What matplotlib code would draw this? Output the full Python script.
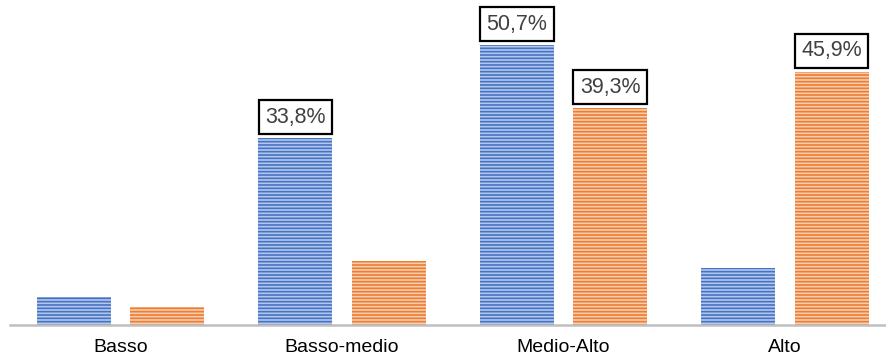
import matplotlib.pyplot as plt
import numpy as np

plt.rcParams['font.family'] = ['Liberation Sans', 'DejaVu Sans']
plt.rcParams['hatch.linewidth'] = 1.2

# 数据
categorie = ['Basso', 'Basso-medio', 'Medio-Alto', 'Alto']
serie_blu = [5.1, 33.8, 50.7, 10.3]
serie_arancio = [3.2, 11.6, 39.3, 45.9]
# 只标注部分柱子
etichetta_blu = [False, True, True, False]
etichetta_arancio = [False, False, True, True]

fig = plt.figure(figsize=(8.86, 3.57), dpi=100)
ax = fig.add_axes([9.75 / 886, 32 / 357, 1.0, 325 / 357])

x = np.arange(len(categorie))
w = 0.334
off = 0.21

b1 = ax.bar(x - off, serie_blu, w, facecolor='#b4c7ea', edgecolor='#4472c4',
            linewidth=0, hatch='-----')
b2 = ax.bar(x + off, serie_arancio, w, facecolor='#f8cdb0', edgecolor='#ed7d31',
            linewidth=0, hatch='-----')


def etichette(barre, valori, flag):
    for rect, v, f in zip(barre, valori, flag):
        if not f:
            continue
        ax.annotate(f'{v:.1f}%'.replace('.', ','),
                    (rect.get_x() + rect.get_width() / 2, rect.get_height()),
                    xytext=(0, 7.5), textcoords='offset points',
                    ha='center', va='bottom', fontsize=15.5, color='#404040',
                    bbox=dict(boxstyle='square,pad=0.3', facecolor='white',
                              edgecolor='black', linewidth=1.6))


etichette(b1, serie_blu, etichetta_blu)
etichette(b2, serie_arancio, etichetta_arancio)

ax.set_xlim(-0.5, 3.5)
ax.set_ylim(0, 58.85)
ax.set_xticks(x)
ax.set_xticklabels(categorie, fontsize=14)
ax.tick_params(axis='x', length=0, pad=10)
ax.set_yticks([])
for s in ['top', 'right', 'left']:
    ax.spines[s].set_visible(False)
ax.spines['bottom'].set_color('#bfbfbf')
ax.spines['bottom'].set_linewidth(1.8)

fig.savefig('out.png', dpi=100)
